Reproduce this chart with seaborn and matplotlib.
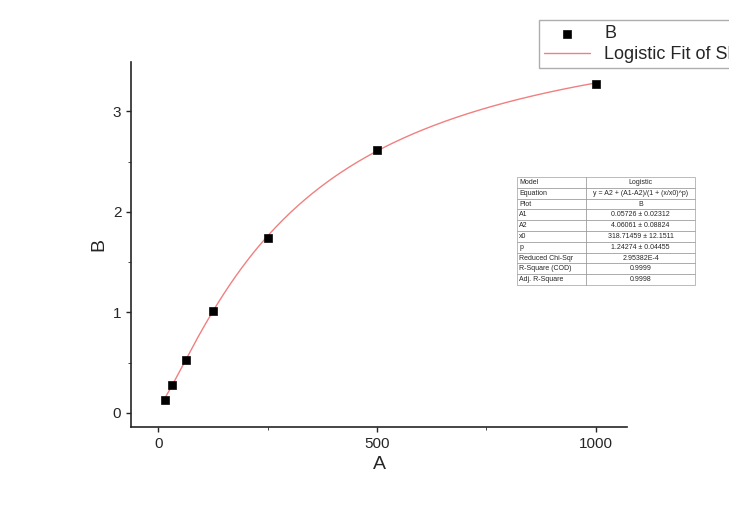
import numpy as np
import pandas as pd
import seaborn as sns
import matplotlib.pyplot as plt
from matplotlib.ticker import AutoMinorLocator

# measured points
a_vals = [15.6, 31.25, 62.5, 125, 250, 500, 1000]
b_vals = [0.13, 0.28, 0.53, 1.01, 1.74, 2.61, 3.27]

# fit parameters shown in the table
A1, A2, x0, p = 0.05726, 4.06061, 318.71459, 1.24274

table_rows = [
    ["Model", "Logistic"],
    ["Equation", "y = A2 + (A1-A2)/(1 + (x/x0)^p)"],
    ["Plot", "B"],
    ["A1", "0.05726 ± 0.02312"],
    ["A2", "4.06061 ± 0.08824"],
    ["x0", "318.71459 ± 12.1511"],
    ["p", "1.24274 ± 0.04455"],
    ["Reduced Chi-Sqr", "2.95382E-4"],
    ["R-Square (COD)", "0.9999"],
    ["Adj. R-Square", "0.9998"],
]

df = pd.DataFrame({"A": a_vals, "B": b_vals})
xf = np.linspace(a_vals[0], a_vals[-1], 300)
fit = pd.DataFrame({"A": xf, "B": A2 + (A1 - A2) / (1 + (xf / x0) ** p)})

sns.set_style("ticks")
plt.rcParams['font.family'] = ['Liberation Sans', 'DejaVu Sans']
fig = plt.figure(figsize=(7.29, 5.09), dpi=100)
ax = fig.add_axes([131/729, 1 - 427/509, 496/729, 365/509])

sns.lineplot(data=fit, x="A", y="B", ax=ax, color="#f08080", linewidth=1, label="Logistic Fit of Sheet1 B")
sns.scatterplot(data=df, x="A", y="B", ax=ax, marker="s", color="black", s=35, edgecolor="black", label="B", zorder=3)

ax.set_xlim(-62, 1071)
ax.set_ylim(-0.14, 3.49)
ax.set_xticks([0, 500, 1000])
ax.set_yticks([0, 1, 2, 3])
ax.xaxis.set_minor_locator(AutoMinorLocator(2))
ax.yaxis.set_minor_locator(AutoMinorLocator(2))
ax.tick_params(direction="out", labelsize=11, width=1)
ax.tick_params(which="minor", length=2)
ax.set_xlabel("A", fontsize=14)
ax.set_ylabel("B", fontsize=14)
for s in ["left", "bottom"]:
    ax.spines[s].set_linewidth(1.2)
sns.despine(ax=ax)

h, l = ax.get_legend_handles_labels()
ax.get_legend().remove()
leg = fig.legend(h[::-1], l[::-1], loc="upper left", bbox_to_anchor=(539/729, 1 - 20/509),
                 fontsize=13, frameon=True, fancybox=False, edgecolor="#999999",
                 borderaxespad=0, handlelength=2.5, labelspacing=0.2, borderpad=0.3)

tab = ax.table(cellText=table_rows, colWidths=[0.14, 0.22], cellLoc="center",
               bbox=[(517-131)/496, (427-285)/365, 178/496, 108/365])
tab.auto_set_font_size(False)
tab.set_fontsize(5)
for (r, c), cell in tab.get_celld().items():
    cell.set_linewidth(0.4)
    cell.set_edgecolor("#888888")
    if c == 0:
        cell.get_text().set_ha("left")
        cell.PAD = 0.03

fig.savefig("out.png", dpi=100)
